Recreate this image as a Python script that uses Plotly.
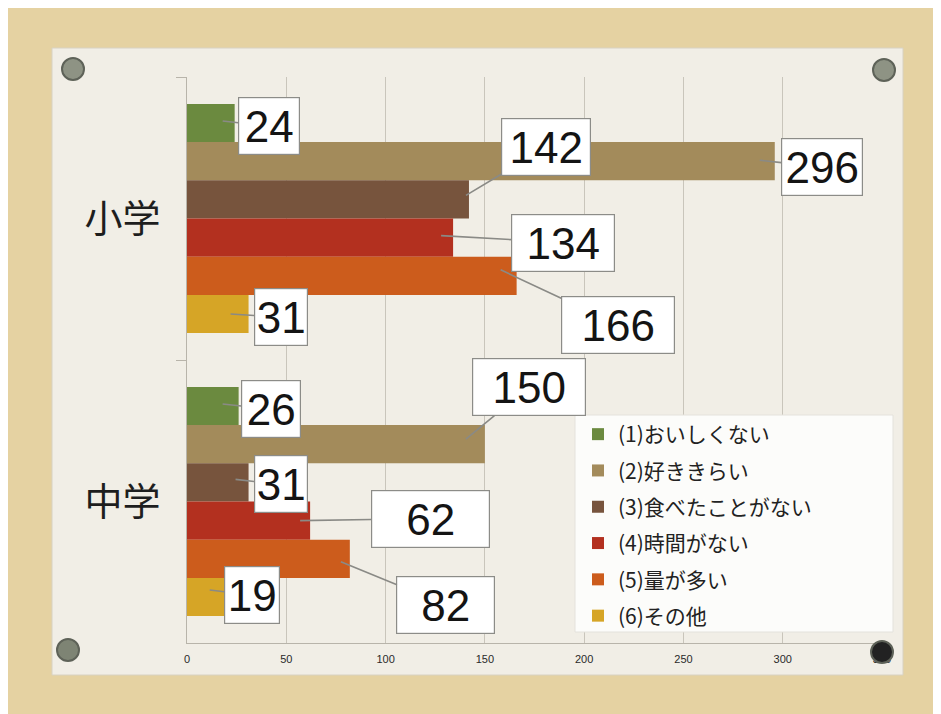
import plotly.graph_objects as go

# ---- data ----
categories = ["小学", "中学"]
series_names = ["(1)おいしくない", "(2)好ききらい", "(3)食べたことがない",
                "(4)時間がない", "(5)量が多い", "(6)その他"]
elementary = [24, 296, 142, 134, 166, 31]
junior = [26, 150, 31, 62, 82, 19]
x_ticks = [0, 50, 100, 150, 200, 250, 300, 350]

# ---- style ----
colors = ["#6b8a3f", "#a38b5b", "#77543d", "#b3301f", "#cc5c1c", "#d6a526"]
BARGAP = 0.19
N = len(series_names)

# callout layout offsets (pixels): xshift, yshift, ax, ay, box width
callout_elem = [(-12, 2, 46, 5, 58), (-15, 1, 62, 7, 78), (-3, 4, 80, -48, 86),
                (-12, 2, 122, 7, 100), (-16, 6, 117, 55, 110), (-18, 0, 50, 3, 50)]
callout_jun = [(-16, 2, 48, 5, 56), (-19, 5, 63, -52, 110), (-13, 3, 45, 5, 50),
               (-10, 0, 130, -2, 115), (-9, -3, 105, 43, 95), (-15, 7, 42, 5, 52)]

fig = go.Figure()
for i, name in enumerate(series_names):
    fig.add_trace(go.Bar(
        y=categories, x=[elementary[i], junior[i]], name=name, orientation="h",
        marker=dict(color=colors[i], line=dict(width=0)),
        legendgroup=f"g{i}",
    ))

w = (1 - BARGAP) / N
annotations = []
for ci, (vals, offs) in enumerate([(elementary, callout_elem), (junior, callout_jun)]):
    for i, v in enumerate(vals):
        xs, ys, ax, ay, bw = offs[i]
        ypos = ci - (1 - BARGAP) / 2 + (i + 0.5) * w
        annotations.append(dict(
            x=v, y=ypos, xref="x", yref="y", text=str(v),
            xshift=xs, yshift=ys, ax=ax, ay=ay, showarrow=True,
            arrowhead=0, arrowwidth=1.6, arrowcolor="#8a8a86", standoff=0,
            font=dict(family="Liberation Sans Narrow, Arial Narrow, Liberation Sans, Arial",
                      size=44, color="#141414"),
            bgcolor="#ffffff", bordercolor="#8c8c88", borderwidth=1.2, borderpad=1,
            width=bw, height=54, align="center", valign="middle",
        ))

OFF = 8                       # page margin of the browser body
W, H = 941 - OFF, 714 - OFF
L, R, T, B = 187 - OFF, 59, 77 - OFF, 71
pw, ph = W - L - R, H - T - B


def px_x(p):
    return (p - OFF - L) / pw


def px_y(p):
    return (H + OFF - B - p) / ph


shapes = [
    # paper panel
    dict(type="rect", xref="paper", yref="paper", x0=px_x(52), x1=px_x(903),
         y0=px_y(675), y1=px_y(48), fillcolor="#f1eee6",
         line=dict(color="#d8d2c2", width=1), layer="below"),
    # legend panel
    dict(type="rect", xref="paper", yref="paper", x0=px_x(575), x1=px_x(893),
         y0=px_y(632), y1=px_y(415), fillcolor="#fcfcfa",
         line=dict(color="#e4e2dc", width=1), layer="above"),
]
for (cx, cy, fc) in [(73, 69, "#8e9384"), (884, 70, "#8e9384"),
                     (68, 650, "#7e8474"), (882, 652, "#222222")]:
    shapes.append(dict(type="circle", xref="paper", yref="paper",
                       x0=px_x(cx - 11), x1=px_x(cx + 11), y0=px_y(cy + 11), y1=px_y(cy - 11),
                       fillcolor=fc, line=dict(color="#5e6258", width=2), layer="above"))

fig.update_layout(
    width=W, height=H,
    margin=dict(l=L, r=R, t=T, b=B, pad=0),
    paper_bgcolor="#e5d2a2",
    plot_bgcolor="rgba(0,0,0,0)",
    barmode="group", bargap=BARGAP, bargroupgap=0,
    showlegend=True,
    legend=dict(x=px_x(578), y=px_y(414), xanchor="left", yanchor="top",
                bgcolor="rgba(0,0,0,0)", borderwidth=0, tracegroupgap=6,
                font=dict(family="Noto Sans CJK JP", size=21, color="#222222"),
                itemsizing="constant"),
    xaxis=dict(range=[0, 350], tickvals=x_ticks, showgrid=True,
               gridcolor="#c9c5bb", gridwidth=1, zeroline=False,
               showline=True, linecolor="#b8b4aa", linewidth=1,
               tickfont=dict(family="Liberation Sans", size=11, color="#2a2a2a"),
               ticks="", ticklabelstandoff=6),
    yaxis=dict(autorange="reversed", categoryorder="array", categoryarray=categories,
               showline=True, linecolor="#b8b4aa", linewidth=1,
               ticks="outside", tickson="boundaries", ticklen=10, tickcolor="#b8b4aa",
               tickfont=dict(family="Noto Sans CJK JP", size=38, color="#1e1e1e"),
               ticklabelstandoff=18, showgrid=False),
    annotations=annotations,
    shapes=shapes,
)

fig.write_html("out.html")
